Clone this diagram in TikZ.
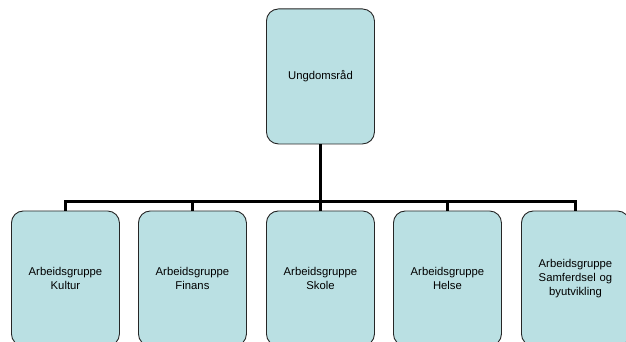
\documentclass[tikz,border=0pt]{standalone}
\usepackage{fontspec}
\setmainfont{Liberation Sans}
\begin{document}
\begin{tikzpicture}[x=1pt,y=-1pt,
  orgbox/.style={draw=black!85, line width=0.9pt, fill=boxfill, rounded corners=12pt,
    minimum width=108pt, minimum height=135pt, inner sep=2pt, align=center,
    text width=100pt, font=\fontsize{11.3}{14}\selectfont, anchor=north west},
  conn/.style={line width=2.4pt, draw=black}]
\definecolor{boxfill}{HTML}{BAE0E3}
\useasboundingbox (0,0) rectangle (626,342);
\path[fill=white] (0,0) rectangle (626,342);
\node[orgbox] (top) at (266,8.5) {Ungdomsråd};
\node[orgbox] (b1) at (11,210.5) {Arbeidsgruppe\\Kultur};
\node[orgbox] (b2) at (138,210.5) {Arbeidsgruppe\\Finans};
\node[orgbox] (b3) at (266,210.5) {Arbeidsgruppe\\Skole};
\node[orgbox] (b4) at (393,210.5) {Arbeidsgruppe\\Helse};
\node[orgbox] (b5) at (521,210.5) {Arbeidsgruppe\\Samferdsel og\\byutvikling};
\coordinate (bus) at (0,201.5);
\draw[conn] (top.south) -- (top.south |- bus);
\draw[conn] (b1.north) -- (b1.north |- bus) -- (b5.north |- bus) -- (b5.north);
\draw[conn] (b2.north) -- (b2.north |- bus);
\draw[conn] (b3.north) -- (b3.north |- bus);
\draw[conn] (b4.north) -- (b4.north |- bus);
\end{tikzpicture}
\end{document}
